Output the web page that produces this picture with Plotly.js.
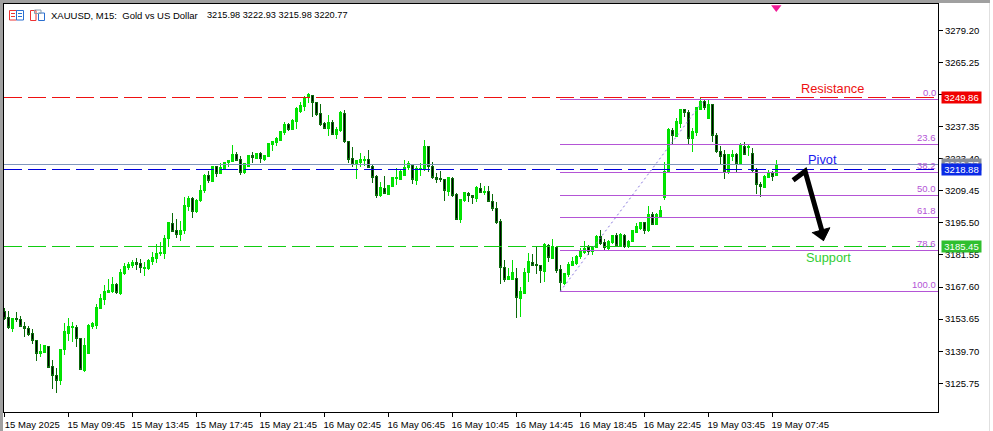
<!DOCTYPE html>
<html><head><meta charset="utf-8">
<script src="https://cdn.plot.ly/plotly-3.0.1.min.js"></script>
<style>html,body{margin:0;padding:0;background:#fff;overflow:hidden}#c{width:993px;height:431px}.boxlayer path{shape-rendering:crispEdges}</style>
</head><body><div id="c"></div>
<script>
const open_=[3156.9,3154.4,3149.6,3154.0,3153.5,3150.6,3149.6,3147.2,3144.5,3138.6,
3139.3,3141.9,3133.2,3129.3,3126.9,3140.5,3147.5,3150.1,3150.1,3145.3,
3131.5,3138.8,3150.4,3151.1,3158.3,3162.3,3165.2,3165.8,3168.9,3164.8,
3173.5,3176.1,3177.1,3178.4,3177.9,3175.8,3175.7,3178.6,3180.0,3182.2,
3182.2,3188.7,3195.2,3192.4,3190.6,3192.1,3202.8,3206.1,3200.3,3205.1,
3209.5,3216.0,3213.7,3219.9,3216.8,3219.2,3221.6,3222.4,3225.3,3223.1,
3217.3,3219.9,3225.0,3223.5,3225.7,3223.1,3224.3,3229.8,3230.3,3231.5,
3234.7,3238.5,3236.3,3239.6,3243.8,3246.3,3250.1,3250.9,3247.9,3243.1,
3238.8,3236.6,3239.2,3234.0,3235.6,3243.1,3230.9,3223.4,3220.8,3221.8,
3222.8,3223.1,3220.0,3215.7,3207.6,3210.6,3208.0,3211.5,3214.7,3214.4,
3216.3,3219.5,3220.6,3214.1,3219.0,3219.0,3228.9,3220.2,3215.4,3215.0,
3214.5,3209.2,3214.8,3207.9,3197.0,3205.1,3208.4,3207.6,3206.1,3210.6,
3208.7,3209.3,3204.8,3201.9,3196.3,3176.1,3170.9,3171.0,3171.3,3162.6,
3164.8,3173.8,3178.3,3177.6,3177.1,3174.2,3185.5,3180.2,3184.8,3175.2,
3169.2,3173.1,3177.1,3177.9,3180.7,3182.5,3184.7,3183.1,3184.8,3189.7,
3186.8,3184.4,3187.0,3189.9,3185.8,3190.2,3185.1,3187.3,3191.5,3193.1,
3195.5,3192.1,3199.2,3194.8,3198.4,3206.6,3217.7,3235.8,3233.2,3238.8,
3244.6,3243.5,3232.2,3234.8,3245.0,3248.2,3240.9,3247.0,3233.7,3226.7,
3225.1,3217.7,3224.5,3225.4,3221.1,3228.9,3228.3,3225.8,3218.7,3212.4,
3210.9,3215.3,3217.0,3215.98];
const high_=[3158.3,3157.2,3154.3,3156.6,3155.0,3152.2,3150.6,3149.2,3144.8,3142.8,
3142.4,3141.9,3136.1,3132.2,3140.6,3151.8,3154.1,3152.2,3151.1,3145.6,
3145.3,3151.5,3152.2,3160.2,3164.6,3168.4,3170.9,3172.1,3169.4,3175.4,
3177.9,3178.3,3179.3,3180.3,3180.0,3178.6,3179.6,3182.9,3186.3,3187.3,
3190.2,3196.0,3199.6,3197.0,3196.3,3206.6,3207.1,3206.6,3205.7,3211.9,
3216.6,3217.9,3220.2,3220.2,3221.4,3222.1,3222.8,3229.3,3226.3,3224.5,
3221.6,3225.0,3226.3,3225.8,3226.3,3225.0,3230.3,3231.2,3232.9,3235.4,
3239.5,3239.0,3240.8,3246.0,3247.9,3250.6,3251.8,3251.2,3248.2,3247.0,
3239.2,3242.4,3240.2,3237.3,3244.1,3244.5,3231.1,3228.3,3222.8,3226.0,
3224.8,3227.4,3220.6,3216.3,3213.4,3215.8,3211.9,3215.3,3219.2,3218.4,
3222.8,3222.5,3220.9,3220.2,3221.6,3231.5,3229.0,3222.1,3217.3,3217.9,
3214.8,3215.3,3215.3,3208.3,3205.8,3208.9,3209.0,3207.6,3211.5,3212.9,
3211.5,3211.5,3208.0,3204.4,3197.0,3179.3,3175.7,3179.3,3176.1,3167.7,
3176.0,3182.2,3181.8,3185.5,3177.1,3186.6,3186.3,3188.4,3185.1,3177.1,
3173.8,3178.6,3180.8,3181.5,3184.4,3187.6,3185.8,3185.5,3190.2,3192.4,
3188.3,3188.0,3190.2,3191.2,3190.9,3190.5,3188.0,3192.4,3195.5,3196.0,
3196.0,3202.8,3200.3,3199.6,3202.9,3222.1,3236.6,3236.9,3240.9,3245.0,
3245.0,3244.8,3236.6,3246.0,3249.6,3249.2,3248.9,3247.2,3234.8,3229.0,
3227.2,3225.4,3227.4,3226.0,3230.3,3230.8,3229.3,3228.2,3219.2,3213.4,
3216.3,3218.7,3218.2,3222.93];
const low_=[3153.3,3149.3,3148.2,3152.2,3150.1,3146.0,3146.3,3142.8,3135.6,3137.3,
3138.8,3132.2,3123.4,3121.6,3125.0,3138.0,3144.3,3143.8,3141.6,3131.5,
3130.8,3138.8,3149.3,3149.3,3157.9,3159.7,3165.1,3165.2,3164.8,3164.1,
3172.8,3175.0,3175.7,3175.0,3173.8,3172.4,3175.2,3177.4,3177.9,3181.0,
3180.0,3185.1,3191.6,3189.0,3187.7,3190.6,3200.8,3197.7,3199.9,3204.7,
3208.6,3212.7,3213.4,3215.5,3216.7,3218.7,3219.6,3222.2,3222.5,3216.3,
3216.7,3219.6,3221.6,3223.4,3221.6,3222.4,3224.0,3226.9,3229.0,3231.2,
3233.7,3235.4,3236.1,3236.3,3243.5,3244.1,3247.7,3241.6,3242.1,3237.6,
3236.3,3233.4,3233.7,3231.9,3235.1,3230.1,3221.6,3219.9,3214.7,3219.6,
3220.2,3219.5,3212.7,3206.4,3206.9,3208.3,3207.6,3211.2,3211.9,3214.1,
3215.8,3218.7,3212.4,3211.9,3215.8,3218.2,3217.7,3214.5,3212.7,3213.4,
3205.1,3207.3,3206.9,3196.7,3195.5,3204.7,3204.7,3203.7,3204.7,3208.3,
3207.6,3204.4,3200.8,3195.2,3169.1,3169.9,3170.6,3170.6,3154.2,3154.4,
3164.8,3169.9,3176.7,3173.5,3169.4,3169.9,3178.6,3180.0,3173.8,3166.0,
3168.4,3172.1,3176.8,3177.4,3180.0,3181.9,3181.5,3181.5,3184.4,3185.8,
3183.7,3183.7,3186.5,3185.5,3185.4,3184.7,3184.8,3187.0,3191.2,3192.6,
3190.6,3191.6,3194.4,3194.4,3198.2,3205.4,3217.4,3229.8,3232.9,3236.6,
3241.6,3229.3,3226.4,3233.2,3244.6,3244.6,3240.6,3230.8,3226.0,3220.6,
3214.5,3216.7,3222.5,3217.7,3220.6,3225.0,3224.5,3217.7,3208.0,3206.6,
3210.5,3215.1,3213.8,3215.98];
const close_=[3154.0,3150.1,3154.0,3153.4,3150.4,3149.5,3146.9,3144.3,3138.6,3139.8,
3142.1,3132.7,3129.0,3126.9,3140.6,3148.2,3150.4,3150.4,3145.1,3131.9,
3142.4,3150.8,3151.8,3158.8,3162.7,3165.8,3166.3,3168.9,3165.1,3173.9,
3176.7,3177.4,3178.4,3177.6,3176.0,3176.1,3179.3,3180.6,3182.2,3182.6,
3188.7,3195.5,3191.9,3190.6,3192.4,3203.2,3206.1,3200.3,3205.4,3209.8,
3216.3,3213.8,3220.2,3217.0,3219.6,3221.6,3222.8,3225.4,3222.8,3217.3,
3221.4,3225.0,3223.8,3225.7,3223.4,3224.7,3230.1,3230.9,3232.2,3235.1,
3238.5,3236.3,3240.2,3245.4,3246.7,3250.1,3251.2,3247.7,3242.8,3238.5,
3236.7,3239.2,3234.1,3236.1,3243.5,3230.8,3223.1,3221.1,3222.7,3223.2,
3223.1,3219.6,3215.3,3207.6,3210.9,3208.3,3211.8,3215.3,3215.3,3217.7,
3219.6,3221.4,3214.4,3219.2,3219.3,3228.9,3219.9,3215.3,3214.5,3214.4,
3209.5,3215.1,3207.6,3197.1,3205.7,3208.6,3207.3,3206.4,3210.8,3208.9,
3209.0,3204.7,3201.8,3195.7,3176.0,3171.0,3172.3,3174.1,3162.9,3165.5,
3174.1,3178.6,3177.1,3176.8,3174.7,3186.3,3180.3,3185.1,3175.0,3169.7,
3173.5,3177.6,3178.6,3181.0,3182.9,3184.4,3183.1,3185.1,3189.7,3186.5,
3184.7,3187.6,3189.9,3185.8,3190.5,3185.1,3187.6,3192.1,3193.8,3195.5,
3192.4,3199.2,3194.8,3199.2,3201.0,3217.7,3236.1,3233.7,3239.5,3244.6,
3243.4,3232.1,3235.1,3245.7,3248.2,3245.7,3247.2,3233.7,3226.4,3224.5,
3217.7,3225.3,3225.4,3221.4,3229.0,3225.4,3228.6,3218.5,3212.1,3211.2,
3215.8,3217.0,3215.8,3220.77];

const xTickVals=[0,16,32,48,64,80,96,112,128,144,160,176,192];
const xTickText=["15 May 2025","15 May 09:45","15 May 13:45","15 May 17:45","15 May 21:45","16 May 02:45","16 May 06:45","16 May 10:45","16 May 14:45","16 May 18:45","16 May 22:45","19 May 03:45","19 May 07:45"];
const yTickVals=[3279.20,3265.25,3251.30,3237.35,3223.40,3209.45,3195.50,3181.55,3167.60,3153.65,3139.70,3125.75];
const yTickText=yTickVals.map(v=>v.toFixed(2));

const resistance=3249.86, pivot=3218.88, support=3185.45, bid=3220.77;
const fibLevels=[3249.2,3229.5,3217.3,3207.5,3197.7,3183.6,3165.75];
const fibLabels=["0.0","23.6","38.2","50.0","61.8","78.6","100.0"];
const fibFrom=139, fibTo=175;
const arrowX=[197.2,200.2,204.7];
const arrowY=[3214.1,3218.0,3190.2];
const headX=[201.9,206.4,204.75];
const headY=[3191.2,3193.4,3187.6];

const X0=-0.075, X1=233.425, Y0=3113.28, Y1=3290.68;
const idx=open_.map((_,i)=>i);
const FONT="Liberation Sans";
const PURPLE="#b455d6";

const hline=(y,color,dash,w,x0)=>({type:"scatter",mode:"lines",x:[x0===undefined?X0:x0,X1],y:[y,y],
  line:{color:color,width:w||1,dash:dash||"solid"},hoverinfo:"skip",showlegend:false});

const traces=[
 {type:"candlestick",x:idx,open:open_,high:high_,low:low_,close:close_,showlegend:false,hoverinfo:"skip",whiskerwidth:0,
  increasing:{line:{color:"#00e000",width:1},fillcolor:"#00e600"},
  decreasing:{line:{color:"#0a6a0a",width:1},fillcolor:"#000000"}},
 hline(bid,"#7f95bb"),
 hline(resistance,"#ee1111","18px,6px"),
 hline(pivot,"#0000dd","18px,6px"),
 hline(support,"#11cc11","18px,6px"),
 ...fibLevels.map(v=>hline(v,PURPLE,"solid",1,fibFrom)),
 {type:"scatter",mode:"lines",x:[fibFrom,fibTo],y:[fibLevels[6],fibLevels[0]],line:{color:"#8474dc",width:1,dash:"2px,3px"},hoverinfo:"skip",showlegend:false},
 {type:"scatter",mode:"lines",x:arrowX,y:arrowY,line:{color:"#000",width:5},hoverinfo:"skip",showlegend:false},
 {type:"scatter",mode:"lines",x:headX,y:headY,fill:"toself",fillcolor:"#000",line:{color:"#000",width:1},hoverinfo:"skip",showlegend:false},
 {type:"scatter",mode:"markers",x:[193],y:[3289.2],marker:{symbol:"triangle-down",size:9,color:"#f01a96"},hoverinfo:"skip",showlegend:false,cliponaxis:true}
];

const W=993,H=431,L=4,R=938,T=4,B=412;
const px=x=>(x-L)/(R-L), py=y=>(B-y)/(B-T);
const rect=(x0,y0,x1,y1,line,fill,w)=>({type:"rect",xref:"paper",yref:"paper",x0:px(x0),x1:px(x1),y0:py(y0),y1:py(y1),layer:"above",line:{color:line,width:w===undefined?1:w},fillcolor:fill||"rgba(0,0,0,0)"});
const seg=(x0,y0,x1,y1,c)=>({type:"line",xref:"paper",yref:"paper",x0:px(x0),x1:px(x1),y0:py(y0),y1:py(y1),layer:"above",line:{color:c,width:1}});
const shapes=[
 rect(0,0,990,3,"#a0a0a0","#a0a0a0",0),
 rect(0,0,3,431,"#a0a0a0","#a0a0a0",0),
 rect(989,3,990,431,"#e0e0e0","#e0e0e0",0),
 rect(9.5,10.5,16.5,20,"#ee3333"),rect(16.5,10.5,23.5,20,"#2a6fd0"),
 seg(11,13.5,15,13.5,"#ee3333"),seg(11,16.5,15,16.5,"#ee3333"),
 seg(18,13.5,22,13.5,"#2a6fd0"),seg(18,16.5,22,16.5,"#2a6fd0"),
 rect(30.5,10.5,36,20.5,"#ee3333"),rect(38.5,13,44.5,20.5,"#2a6fd0"),
 rect(34.5,10,41,13.5,"#8aa0b0")
];

const boxLabel=(y,text,bg)=>({xref:"paper",yref:"y",x:px(941),y:y,xanchor:"left",yanchor:"middle",text:text,showarrow:false,
  bgcolor:bg,font:{family:FONT,size:9.5,color:"#fff"},width:39,height:11,borderpad:0,align:"center"});
const note=(xpx,y,text,color,size)=>({xref:"paper",yref:"y",x:px(xpx),y:y,xanchor:"center",yanchor:"middle",text:text,showarrow:false,font:{family:FONT,size:size||12,color:color}});
const annotations=[
 {xref:"paper",yref:"paper",x:px(49),y:py(15),xanchor:"left",yanchor:"middle",showarrow:false,
  text:"XAUUSD, M15:\u00a0\u00a0Gold vs US Dollar",font:{family:FONT,size:9.5,color:"#000"}},
 {xref:"paper",yref:"paper",x:px(204.5),y:py(15),xanchor:"left",yanchor:"middle",showarrow:false,
  text:"3215.98 3222.93 3215.98 3220.77",font:{family:FONT,size:9.2,color:"#000"}},
 note(832,3254.1,"Resistance","#ee1111",12.8),
 note(822,3222.9,"Pivot","#1a1aee",12.8),
 note(828,3180.3,"Support","#33cc33",12.8),
 ...fibLabels.map((t,i)=>({xref:"paper",yref:"y",x:px(938),y:fibLevels[i]+3,xanchor:"right",yanchor:"middle",text:t,showarrow:false,font:{family:FONT,size:9.5,color:PURPLE}})),
 boxLabel(bid,"3220.77","#8a8f98"),
 boxLabel(resistance,"3249.86","#f00000"),
 boxLabel(pivot,"3218.88","#0a2ae6"),
 boxLabel(support,"3185.45","#2fbf2f")
];

const layout={width:W,height:H,margin:{l:L,r:W-R,t:T,b:H-B,pad:0},paper_bgcolor:"#fff",plot_bgcolor:"#fff",showlegend:false,
 font:{family:FONT,size:9.5,color:"#000"},
 xaxis:{type:"linear",range:[X0,X1],tickmode:"array",tickvals:xTickVals,ticktext:xTickText,ticks:"outside",ticklen:4,tickwidth:1,tickcolor:"#000",
  showgrid:false,zeroline:false,showline:true,mirror:true,linecolor:"#000",linewidth:1,tickangle:0,ticklabelshift:28,ticklabelstandoff:0,rangeslider:{visible:false},fixedrange:true,
  tickfont:{family:FONT,size:9.5,color:"#000"}},
 yaxis:{type:"linear",side:"right",range:[Y0,Y1],tickmode:"array",tickvals:yTickVals,ticktext:yTickText,ticks:"outside",ticklen:4,tickwidth:1,tickcolor:"#000",
  showgrid:false,zeroline:false,showline:true,mirror:true,linecolor:"#000",linewidth:1,fixedrange:true,
  tickfont:{family:FONT,size:9.5,color:"#000"}},
 shapes:shapes,annotations:annotations,hovermode:false};
Plotly.newPlot("c",traces,layout,{displayModeBar:false,staticPlot:true}).then(gd=>{
  const lines=gd.querySelectorAll(".scatterlayer .trace");
  const crispCount=4+fibLevels.length;
  lines.forEach((t,i)=>{ if(i<crispCount) t.querySelectorAll("path.js-line").forEach(p=>p.style.shapeRendering="crispEdges"); });
});
</script></body></html>
